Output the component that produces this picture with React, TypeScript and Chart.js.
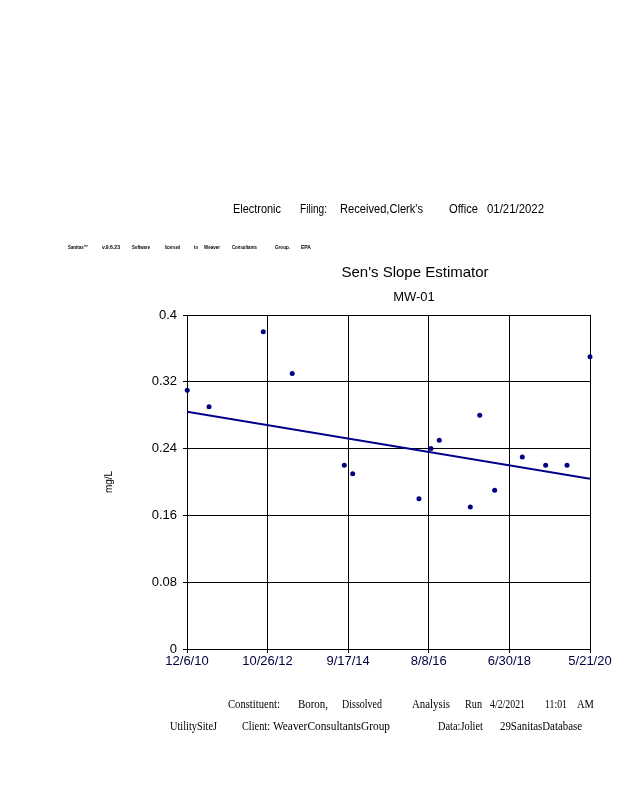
import React, { useEffect, useRef } from 'react';
import { Chart, registerables } from 'chart.js';

Chart.register(...registerables);

// ---------- data ----------
const sampleDates = [
  '2010-12-08', '2011-06-13', '2012-09-20', '2013-05-26', '2014-08-15', '2014-10-26',
  '2016-05-16', '2016-08-27', '2016-11-06', '2017-07-30', '2017-10-19', '2018-02-24',
  '2018-10-19', '2019-05-07', '2019-11-06', '2020-05-21',
];
const boronValues = [
  0.31, 0.29, 0.38, 0.33, 0.22, 0.21,
  0.18, 0.24, 0.25, 0.17, 0.28, 0.19,
  0.23, 0.22, 0.22, 0.35,
];
const trendDates = ['2010-12-06', '2020-05-21'];
const trendValues = [0.284, 0.204];

const xTickDates = ['2010-12-06', '2012-10-26', '2014-09-17', '2016-08-08', '2018-06-30', '2020-05-21'];
const xTickLabels = ['12/6/10', '10/26/12', '9/17/14', '8/8/16', '6/30/18', '5/21/20'];
const yTickValues = [0, 0.08, 0.16, 0.24, 0.32, 0.4];
const yTickLabels = ['0', '0.08', '0.16', '0.24', '0.32', '0.4'];

const chartTitle = "Sen's Slope Estimator";
const chartSubtitle = 'MW-01';
const yAxisTitle = 'mg/L';

const headerWords = ['Electronic', 'Filing:', "Received,Clerk's", 'Office', '01/21/2022'];
const creditWords = ['Sanitas\u2122', 'v.9.6.23', 'Software', 'licensed', 'to', 'Weaver', 'Consultants', 'Group.', 'EPA'];
const footerWords1 = ['Constituent:', 'Boron,', 'Dissolved', 'Analysis', 'Run', '4/2/2021', '11:01', 'AM'];
const footerWords2 = ['UtilitySiteJ', 'Client:', 'WeaverConsultantsGroup', 'Data:Joliet', '29SanitasDatabase'];

// ---------- layout (positions: [x, maxWidth]) ----------
const headerPos = [[233, 48], [300, 27], [340, 83], [449, 29], [487, 57]];
const creditPos = [[68, 20], [102, 18], [132, 18], [165, 15], [194, 4], [204, 16], [232, 25], [275, 15], [301, 10]];
const footerPos1 = [[228, 52], [298, 30], [342, 40], [412, 38], [465, 17], [490, 35], [545, 22], [577, 17]];
const footerPos2 = [[170, 47], [242, 28], [273, 117], [438, 45], [500, 82]];

const SANS = '"Liberation Sans", Arial, sans-serif';
const SERIF = '"Liberation Serif", "Times New Roman", serif';

const toTime = (s: string) => Date.UTC(+s.slice(0, 4), +s.slice(5, 7) - 1, +s.slice(8, 10));

const pageTextPlugin = {
  id: 'pageText',
  afterDraw(chart: any) {
    const ctx = chart.ctx as CanvasRenderingContext2D;
    ctx.save();
    ctx.fillStyle = '#000';
    ctx.textBaseline = 'middle';
    ctx.textAlign = 'left';
    const drawWords = (words: string[], pos: number[][], y: number, font: string) => {
      ctx.font = font;
      words.forEach((w, i) => ctx.fillText(w, pos[i][0], y, pos[i][1]));
    };
    drawWords(headerWords, headerPos, 210, `12px ${SANS}`);
    drawWords(creditWords, creditPos, 247, `bold 6px ${SANS}`);
    drawWords(footerWords1, footerPos1, 705, `12px ${SERIF}`);
    drawWords(footerWords2, footerPos2, 727, `12px ${SERIF}`);
    ctx.textAlign = 'center';
    ctx.font = `15px ${SANS}`;
    ctx.fillText(chartTitle, 415, 273);
    ctx.font = `13px ${SANS}`;
    ctx.fillText(chartSubtitle, 414, 297);
    ctx.restore();
  },
};

export default function App() {
  const canvasRef = useRef<HTMLCanvasElement | null>(null);

  useEffect(() => {
    const canvas = canvasRef.current;
    if (!canvas) return;
    const chart = new Chart(canvas, {
      type: 'scatter',
      data: {
        datasets: [
          {
            label: 'Boron, Dissolved',
            data: sampleDates.map((d, i) => ({ x: toTime(d), y: boronValues[i] })),
            backgroundColor: '#000080',
            borderColor: '#000080',
            borderWidth: 0,
            pointRadius: 2.5,
            pointStyle: 'circle',
            clip: false,
            order: 1,
          } as any,
          {
            label: "Sen's Slope",
            data: trendDates.map((d, i) => ({ x: toTime(d), y: trendValues[i] })),
            showLine: true,
            borderColor: '#00008B',
            borderWidth: 2,
            pointRadius: 0,
            fill: false,
            order: 2,
          } as any,
        ],
      },
      options: {
        responsive: false,
        animation: false,
        devicePixelRatio: 1,
        layout: { padding: { top: 315, right: 28, bottom: 0, left: 0 } },
        plugins: {
          legend: { display: false },
          tooltip: { enabled: false },
          title: { display: false },
        },
        scales: {
          x: {
            type: 'linear',
            min: toTime(xTickDates[0]),
            max: toTime(xTickDates[xTickDates.length - 1]),
            afterBuildTicks: (s: any) => {
              s.ticks = xTickDates.map((d) => ({ value: toTime(d) }));
            },
            afterFit: (s: any) => {
              s.height = 151;
            },
            ticks: {
              autoSkip: false,
              maxRotation: 0,
              padding: 1,
              color: '#000040',
              font: { size: 13, family: SANS },
              callback: (_v: any, i: number) => xTickLabels[i],
            },
            grid: { color: '#000', lineWidth: 1, tickLength: 4 },
            border: { color: '#000', width: 1 },
          },
          y: {
            type: 'linear',
            min: 0,
            max: 0.4,
            afterBuildTicks: (s: any) => {
              s.ticks = yTickValues.map((v) => ({ value: v }));
            },
            afterFit: (s: any) => {
              s.width = 187;
            },
            ticks: {
              autoSkip: false,
              padding: 6,
              color: '#000',
              font: { size: 13, family: SANS },
              callback: (_v: any, i: number) => yTickLabels[i],
            },
            grid: { color: '#000', lineWidth: 1, tickLength: 4 },
            border: { color: '#000', width: 1 },
            title: {
              display: true,
              text: yAxisTitle,
              color: '#000',
              font: { size: 10, family: SANS },
              padding: { top: 103, bottom: 0 },
            },
          },
        },
      },
      plugins: [pageTextPlugin],
    });
    return () => chart.destroy();
  }, []);

  return (
    <div style={{ position: 'absolute', left: 0, top: 0, width: 618, height: 800, background: '#fff' }}>
      <canvas ref={canvasRef} width={618} height={800} style={{ display: 'block' }} />
    </div>
  );
}
